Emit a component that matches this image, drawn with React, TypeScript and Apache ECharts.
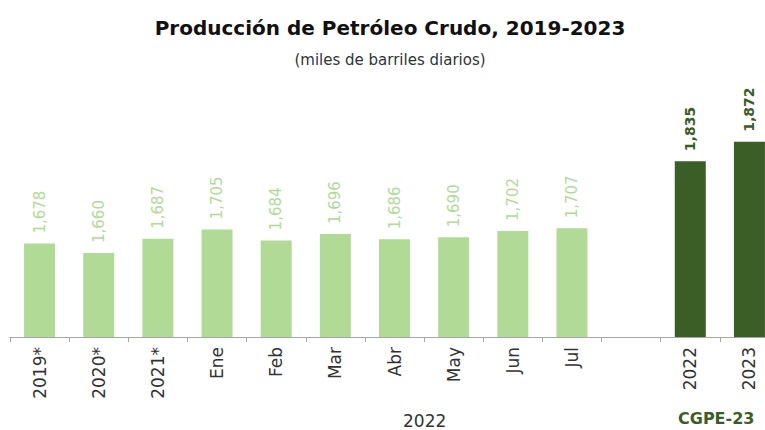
import React, { useEffect, useRef } from "react";
import * as echarts from "echarts";

const categories = ["2019*", "2020*", "2021*", "Ene", "Feb", "Mar", "Abr", "May", "Jun", "Jul", "", "2022", "2023"];
const values: (number | null)[] = [1678, 1660, 1687, 1705, 1684, 1696, 1686, 1690, 1702, 1707, null, 1835, 1872];
const isEstimate = [false, false, false, false, false, false, false, false, false, false, false, true, true];

const LIGHT = "#b1da97";
const DARK = "#3b5d26";
const FONT = "DejaVu Sans";

export default function App() {
  const ref = useRef<HTMLDivElement>(null);
  useEffect(() => {
    if (!ref.current) return;
    const chart = echarts.init(ref.current, undefined, { renderer: "svg" });
    const data = values.map((v, i) => ({
      value: v,
      itemStyle: { color: isEstimate[i] ? DARK : LIGHT },
      label: isEstimate[i]
        ? { color: DARK, fontWeight: "bold", fontSize: 14 }
        : { color: LIGHT, fontWeight: "normal", fontSize: 15 },
    }));
    chart.setOption({
      animation: false,
      title: [
        {
          text: "Producción de Petróleo Crudo, 2019-2023",
          left: "center",
          top: 13,
          textStyle: { fontFamily: FONT, fontSize: 20, fontWeight: "bold", color: "#111" },
        },
        {
          text: "(miles de barriles diarios)",
          left: "center",
          top: 47,
          textStyle: { fontFamily: FONT, fontSize: 15, fontWeight: "normal", color: "#333" },
        },
      ],
      grid: { left: 10, right: 1, top: 127, height: 210, containLabel: false },
      xAxis: {
        type: "category",
        data: categories,
        boundaryGap: true,
        axisLine: { lineStyle: { color: "#a6a6a6", width: 1 } },
        axisTick: { show: true, length: 5, lineStyle: { color: "#a6a6a6" } },
        axisLabel: {
          rotate: 90,
          margin: 10,
          interval: 0,
          fontFamily: FONT,
          fontSize: 17,
          color: "#333",
        },
      },
      yAxis: {
        type: "value",
        min: 1500,
        max: 1900,
        show: false,
        splitLine: { show: false },
      },
      series: [
        {
          type: "bar",
          data,
          barWidth: 31,
          label: {
            show: true,
            position: "top",
            rotate: 90,
            align: "left",
            verticalAlign: "middle",
            distance: 10,
            fontFamily: FONT,
            formatter: (p: any) => (p.value == null ? "" : Number(p.value).toLocaleString("en-US")),
          },
        },
      ],
      graphic: [
        {
          type: "text",
          left: 403,
          top: 412,
          style: { text: "2022", fontFamily: FONT, fontSize: 17, fill: "#333" },
        },
        {
          type: "text",
          left: 678,
          top: 410,
          style: { text: "CGPE-23", fontFamily: FONT, fontSize: 16, fontWeight: "bold", fill: DARK },
        },
      ],
    });
    return () => chart.dispose();
  }, []);
  return (
    <div style={{ position: "absolute", left: 0, top: 0, width: 765, height: 430, overflow: "hidden", background: "#fff" }}>
      <div ref={ref} style={{ width: 780, height: 430 }} />
    </div>
  );
}
